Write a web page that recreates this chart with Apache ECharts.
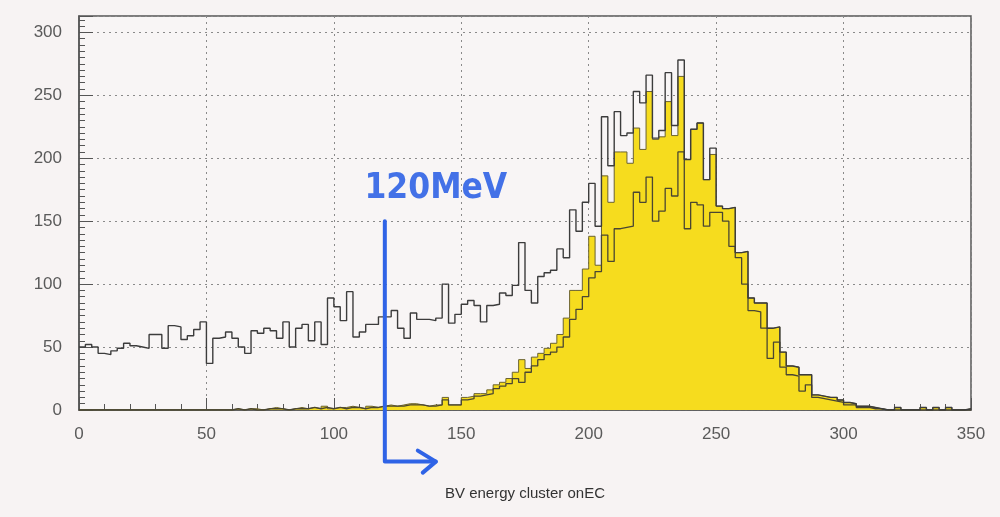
<!DOCTYPE html>
<html>
<head>
<meta charset="utf-8">
<script src="https://cdn.jsdelivr.net/npm/echarts@6/dist/echarts.min.js"></script>
<style>
html, body { margin: 0; padding: 0; background: #f7f3f3; }
#chart { width: 1000px; height: 517px; }
</style>
</head>
<body>
<div id="chart"></div>
<script>
// histogram bins: 140 bins of 2.5 from 0 to 350
const binWidth = 2.5;

// all clusters (upper outline)
const totalCounts = [
  50, 52, 50, 45, 44, 47, 49, 53, 51, 50, 49, 60, 60, 49, 67, 66, 56, 59, 64, 70,
  37, 57, 58, 62, 57, 50, 45, 63, 61, 65, 63, 57, 70, 50, 65, 68, 55, 70, 52, 89,
  82, 71, 94, 58, 62, 68, 68, 74, 74, 79, 65, 57, 77, 72, 72, 71, 73, 100, 69, 76,
  84, 87, 83, 70, 83, 84, 93, 91, 99, 133, 95, 85, 106, 109, 111, 128, 121, 159, 142, 165,
  180, 146, 233, 194, 237, 218, 220, 253, 244, 266, 216, 222, 268, 226, 278, 199, 223, 228, 183, 208,
  162, 160, 161, 125, 126, 89, 85, 85, 65, 66, 46, 35, 34, 28, 28, 12, 11, 10, 10, 8,
  6, 5, 3, 3, 2, 1, 0, 0, 2, 0, 0, 0, 2, 0, 2, 0, 2, 0, 0, 1
];

// selected clusters (yellow fill)
const yellowCounts = [
  0, 0, 0, 0, 0, 0, 0, 0, 0, 0, 0, 0, 0, 0, 0, 0, 0, 0, 0, 0,
  0, 0, 0, 0, 1, 0, 1, 1, 0, 1, 2, 1, 0, 1, 2, 1, 2, 1, 3, 1,
  2, 2, 3, 2, 1, 3, 2, 3, 4, 3, 4, 5, 5, 4, 3, 4, 4, 10, 4, 4,
  10, 11, 13, 13, 16, 20, 22, 25, 30, 40, 33, 42, 45, 49, 53, 60, 73, 95, 95, 112,
  138, 115, 186, 165, 205, 205, 196, 224, 207, 253, 215, 217, 245, 218, 265, 199, 223, 228, 183, 203,
  162, 160, 161, 125, 126, 89, 85, 85, 65, 66, 46, 35, 34, 28, 28, 12, 11, 10, 10, 8,
  6, 5, 3, 3, 2, 1, 0, 0, 2, 0, 0, 0, 2, 0, 2, 0, 2, 0, 0, 1
];

// inner outline
const innerCounts = [
  0, 0, 0, 0, 0, 0, 0, 0, 0, 0, 0, 0, 0, 0, 0, 0, 0, 0, 0, 0,
  0, 0, 0, 0, 1, 0, 1, 0, 0, 1, 1, 1, 0, 1, 1, 1, 2, 1, 2, 1,
  2, 1, 2, 2, 1, 2, 2, 3, 3, 3, 3, 4, 4, 4, 3, 3, 4, 8, 4, 4,
  8, 9, 11, 12, 13, 17, 19, 21, 25, 22, 30, 35, 40, 44, 46, 50, 58, 72, 80, 90,
  105, 110, 139, 118, 144, 145, 146, 173, 165, 185, 150, 158, 176, 170, 205, 144, 165, 163, 146, 157,
  157, 150, 130, 121, 100, 79, 78, 65, 41, 54, 34, 28, 27, 15, 20, 10, 9, 8, 7, 6,
  4, 4, 2, 2, 1, 1, 0, 0, 0, 0, 0, 0, 0, 0, 0, 0, 0, 0, 0, 0
];

const xName = "BV energy cluster onEC";
const annotLabel = "120MeV";
const annotX = 120;        // energy cut
const annotTop = 150;      // top of the vertical stroke (counts)
const annotBottom = -41;   // below the axis
const annotArrowEnd = 140;
const annotTextX = 140;
const annotTextY = 176;

function stepData(counts) {
  let pts = counts.map((v, i) => [i * binWidth, v]);
  pts.push([counts.length * binWidth, counts[counts.length - 1]]);
  return pts;
}

const myChart = echarts.init(document.getElementById("chart"));
const labelFont = { color: "#5a5a5a", fontSize: 17, fontFamily: "Liberation Sans" };
const gridLine = { show: true, lineStyle: { color: "#8a8a8a", type: [2, 4], width: 1 } };

myChart.setOption({
  animation: false,
  backgroundColor: "#f7f3f3",
  grid: {
    left: 79,
    right: 29,
    top: 16,
    bottom: 107,
    show: true,
    backgroundColor: "#f8f5f5",
    borderColor: "#555",
    borderWidth: 1.5
  },
  xAxis: {
    type: "value",
    min: 0,
    max: 350,
    interval: 50,
    name: xName,
    nameLocation: "middle",
    nameGap: 76,
    nameTextStyle: { color: "#333", fontSize: 15, fontFamily: "Liberation Sans" },
    axisLine: { show: true, lineStyle: { color: "#555", width: 1.5 } },
    axisTick: { show: true, inside: true, length: 12, lineStyle: { color: "#555" } },
    minorTick: { show: true, splitNumber: 5, length: 6, lineStyle: { color: "#555" } },
    axisLabel: Object.assign({ margin: 16 }, labelFont),
    splitLine: gridLine
  },
  yAxis: {
    type: "value",
    min: 0,
    max: 313,
    interval: 50,
    axisLine: { show: true, lineStyle: { color: "#555", width: 1.5 } },
    axisTick: { show: true, inside: true, length: 14, lineStyle: { color: "#555" } },
    minorTick: { show: true, splitNumber: 10, length: 6, lineStyle: { color: "#555" } },
    axisLabel: Object.assign({ margin: 17, showMaxLabel: false }, labelFont),
    splitLine: gridLine
  },
  series: [
    {
      name: "selected",
      type: "line",
      step: "end",
      showSymbol: false,
      symbol: "none",
      data: stepData(yellowCounts),
      lineStyle: { color: "#6a6230", width: 1 },
      areaStyle: { color: "#f6dc1e", opacity: 1 },
      z: 2
    },
    {
      name: "inner",
      type: "line",
      step: "end",
      showSymbol: false,
      symbol: "none",
      data: stepData(innerCounts),
      lineStyle: { color: "#4a4632", width: 1.3 },
      z: 3
    },
    {
      name: "total",
      type: "line",
      step: "end",
      showSymbol: false,
      symbol: "none",
      data: stepData(totalCounts),
      lineStyle: { color: "#3c3c3c", width: 1.4 },
      z: 4
    }
  ]
});

// hand drawn annotation placed in data coordinates
const pTop = myChart.convertToPixel({ gridIndex: 0 }, [annotX, annotTop]);
const pBot = myChart.convertToPixel({ gridIndex: 0 }, [annotX, annotBottom]);
const pEnd = myChart.convertToPixel({ gridIndex: 0 }, [annotArrowEnd, annotBottom]);
const pText = myChart.convertToPixel({ gridIndex: 0 }, [annotTextX, annotTextY]);
const blue = "#2f63e6";

myChart.setOption({
  graphic: [
    {
      type: "polyline",
      z: 100,
      shape: { points: [pTop, pBot, pEnd] },
      style: { stroke: blue, lineWidth: 4, fill: null, lineJoin: "round", lineCap: "round" }
    },
    {
      type: "polyline",
      z: 100,
      shape: { points: [[pEnd[0] - 18, pEnd[1] - 11], pEnd, [pEnd[0] - 13, pEnd[1] + 11]] },
      style: { stroke: blue, lineWidth: 4, fill: null, lineJoin: "round", lineCap: "round" }
    },
    {
      type: "text",
      z: 100,
      x: pText[0],
      y: pText[1],
      style: {
        text: annotLabel,
        fill: blue,
        font: "bold 35px 'DejaVu Sans Condensed', 'DejaVu Sans', sans-serif",
        align: "center",
        verticalAlign: "middle",
        opacity: 0.9
      }
    }
  ]
});

window.addEventListener("resize", () => {
  myChart.resize();
});
</script>
</body>
</html>
